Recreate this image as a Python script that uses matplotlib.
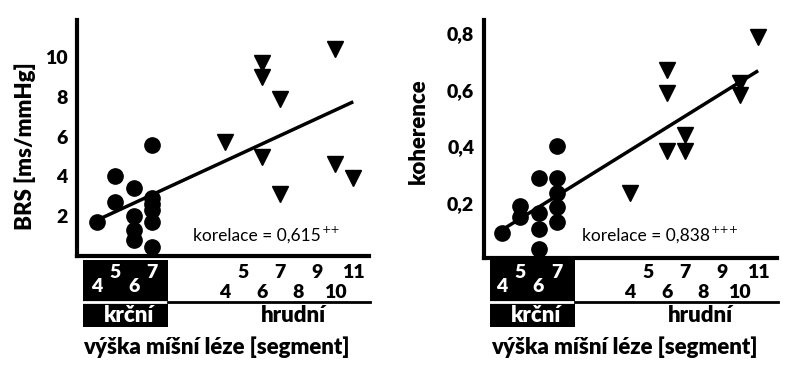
import numpy as np
import matplotlib
matplotlib.use("Agg")
import matplotlib.pyplot as plt
from matplotlib.patches import Rectangle
from matplotlib.lines import Line2D
from matplotlib.transforms import blended_transform_factory

plt.rcParams['font.family'] = ['Lato', 'DejaVu Sans']

# segment positions: C4..C7 -> 0..3, T4..T11 -> 7..14
cerv_labels = ['4', '5', '6', '7']
cerv_pos = [0, 1, 2, 3]
thor_labels = ['4', '5', '6', '7', '8', '9', '10', '11']
thor_pos = [7, 8, 9, 10, 11, 12, 13, 14]

# BRS panel
brs_c_x = [0, 1, 1, 2, 2, 2, 2, 3, 3, 3, 3, 3, 3]
brs_c_y = [1.7, 4.0, 2.7, 3.4, 2.0, 1.3, 0.8, 5.6, 2.9, 2.6, 2.3, 1.7, 0.45]
brs_t_x = [7, 9, 9, 9, 10, 10, 13, 13, 14]
brs_t_y = [5.75, 9.7, 9.0, 5.0, 7.9, 3.1, 10.4, 4.6, 3.9]
brs_line = [1.8, 7.75]   # fitted line at x=0 and x=14

# coherence panel
koh_c_x = [0, 1, 1, 2, 2, 2, 2, 3, 3, 3, 3, 3]
koh_c_y = [0.095, 0.19, 0.15, 0.29, 0.165, 0.11, 0.037, 0.40, 0.29, 0.235, 0.185, 0.133]
koh_t_x = [7, 9, 9, 9, 10, 10, 13, 13, 14]
koh_t_y = [0.235, 0.67, 0.59, 0.385, 0.44, 0.385, 0.625, 0.58, 0.785]
koh_line = [0.105, 0.667]

W, H = 800, 378
fig = plt.figure(figsize=(8, 3.78), dpi=100)

def fx(px):
    return px / W

def fy(py):
    return 1 - py / H

FS = 16      # word labels
FN = 14      # digits
FW = 'heavy'

def panel(left, right, top, bottom, xlim, ylim, yticks, yticklabels,
          cx, cy, tx, ty, line, ylabel, ylabel_xy, corr, sup, corr_x, box_l, box_r, line_r, shift):
    ax = fig.add_axes([fx(left), fy(bottom), fx(right - left), (bottom - top) / H])
    ax.set_xlim(*xlim)
    ax.set_ylim(*ylim)
    for s in ['top', 'right']:
        ax.spines[s].set_visible(False)
    for s in ['left', 'bottom']:
        ax.spines[s].set_linewidth(3)
        ax.spines[s].set_capstyle('projecting')
    ax.set_xticks([])
    ax.set_yticks(yticks)
    ax.set_yticklabels(yticklabels, fontsize=FN, fontweight=FW)
    ax.tick_params(axis='y', length=0, pad=7)
    ax.plot([0, 14], line, color='black', lw=2.5, solid_capstyle='butt', zorder=2)
    ax.plot(cx, cy, 'o', color='black', ms=11, ls='none', zorder=3, clip_on=False)
    ax.plot(tx, ty, 'v', color='black', ms=11, ls='none', zorder=3, clip_on=False)
    fig.text(fx(ylabel_xy[0]), fy(ylabel_xy[1]), ylabel, rotation=90, ha='center', va='center',
             fontsize=FS, fontweight=FW)
    t = fig.text(fx(corr_x), fy(236), corr, ha='left', va='center', fontsize=12.5)
    fig.canvas.draw()
    bb = t.get_window_extent()
    fig.text(bb.x1 / W + 0.001, fy(230), sup, ha='left', va='center', fontsize=8,
             family=['DejaVu Sans'])

    tr = blended_transform_factory(ax.transData, fig.transFigure)
    # black boxes
    fig.patches.append(Rectangle((fx(box_l), fy(327)), fx(box_r - box_l), (327 - 260) / H,
                                 facecolor='black', edgecolor='none', transform=fig.transFigure))
    fig.lines.append(Line2D([fx(box_l), fx(box_r)], [fy(301.5), fy(301.5)], color='white', lw=2,
                            transform=fig.transFigure))
    fig.lines.append(Line2D([fx(box_r), fx(line_r)], [fy(301.5), fy(301.5)], color='black', lw=2,
                            transform=fig.transFigure))
    for i, (lab, p) in enumerate(zip(cerv_labels, cerv_pos)):
        yy = 286 if i % 2 == 0 else 272
        fig.text(p, fy(yy + shift), lab, transform=tr, ha='center', va='center', color='white',
                 fontsize=FN, fontweight=FW)
    for i, (lab, p) in enumerate(zip(thor_labels, thor_pos)):
        yy = 292 if i % 2 == 0 else 272
        fig.text(p, fy(yy), lab, transform=tr, ha='center', va='center', color='black',
                 fontsize=FN, fontweight=FW)
    fig.text(fx((box_l + box_r) / 2 + 4), fy(315), 'krční', ha='center', va='center', color='white',
             fontsize=FS, fontweight=FW)
    fig.text(fx((box_r + line_r) / 2 + 24), fy(315), 'hrudní', ha='center', va='center', color='black',
             fontsize=FS, fontweight=FW)
    fig.text(fx((box_l + line_r) / 2 - 10), fy(347), 'výška míšní léze [segment]', ha='center',
             va='center', fontsize=FS, fontweight=FW)
    return ax

panel(77, 369, 20, 256, (-1.09, 14.86), (0, 11.86), [2, 4, 6, 8, 10], ['2', '4', '6', '8', '10'],
      brs_c_x, brs_c_y, brs_t_x, brs_t_y, brs_line, 'BRS [ms/mmHg]', (25, 146),
      'korelace = 0,615', '++', 193, 83, 168, 370, 0)

panel(484, 777, 20, 258, (-0.98, 15.03), (0.006, 0.846), [0.2, 0.4, 0.6, 0.8],
      ['0,2', '0,4', '0,6', '0,8'],
      koh_c_x, koh_c_y, koh_t_x, koh_t_y, koh_line, 'koherence', (418, 131),
      'korelace = 0,838', '+++', 582, 490, 575, 778, 1)

fig.savefig('out.png', dpi=100)
